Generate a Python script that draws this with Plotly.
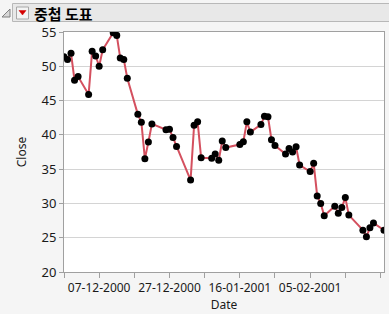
import plotly.graph_objects as go

dates = ["2000-11-27","2000-11-28","2000-11-29","2000-11-30","2000-12-01",
         "2000-12-04","2000-12-05","2000-12-06","2000-12-07","2000-12-08",
         "2000-12-11","2000-12-12","2000-12-13","2000-12-14","2000-12-15",
         "2000-12-18","2000-12-19","2000-12-20","2000-12-21","2000-12-22",
         "2000-12-26","2000-12-27","2000-12-28","2000-12-29",
         "2001-01-02","2001-01-03","2001-01-04","2001-01-05",
         "2001-01-08","2001-01-09","2001-01-10","2001-01-11","2001-01-12",
         "2001-01-16","2001-01-17","2001-01-18","2001-01-19",
         "2001-01-22","2001-01-23","2001-01-24","2001-01-25","2001-01-26",
         "2001-01-29","2001-01-30","2001-01-31","2001-02-01","2001-02-02",
         "2001-02-05","2001-02-06","2001-02-07","2001-02-08","2001-02-09",
         "2001-02-12","2001-02-13","2001-02-14","2001-02-15","2001-02-16",
         "2001-02-20","2001-02-21","2001-02-22","2001-02-23",
         "2001-02-26"]
close = [51.4, 51.0, 51.9, 47.95, 48.5,
         45.9, 52.2, 51.5, 50.0, 52.4,
         54.9, 54.5, 51.2, 51.0, 48.25,
         43.0, 41.85, 36.5, 38.95, 41.6,
         40.75, 40.8, 39.6, 38.3,
         33.4, 41.4, 41.9, 36.65,
         36.6, 37.2, 36.3, 39.1, 38.15,
         38.6, 39.0, 41.9, 40.4,
         41.5, 42.7, 42.65, 39.3, 38.45,
         37.2, 38.0, 37.5, 38.25, 35.6,
         34.65, 35.85, 31.1, 30.0, 28.2,
         29.6, 28.55, 29.4, 30.85, 28.3,
         26.1, 25.15, 26.45, 27.15,
         26.1]

x_tick_vals = ["2000-11-27","2000-12-07","2000-12-17","2000-12-27","2001-01-06",
               "2001-01-16","2001-01-26","2001-02-05","2001-02-15","2001-02-25"]
x_tick_text = ["","07-12-2000","","27-12-2000","",
               "16-01-2001","","05-02-2001","",""]
y_tick_vals = [20, 25, 30, 35, 40, 45, 50, 55]

title_text = "중첩 도표"
x_title = "Date"
y_title = "Close"

W, H = 389, 314
L, R, T, B = 64, 5, 32, 42
PW, PH = W - L - R, H - T - B

def px(x):
    return (x - L) / PW

def py(y):
    return (H - B - y) / PH

FONT = "Noto Sans, DejaVu Sans, sans-serif"
GRAY = "#a0a0a0"

fig = go.Figure()
fig.add_trace(go.Scatter(
    x=dates, y=close, mode="lines+markers",
    line=dict(color="#d4505f", width=2),
    marker=dict(color="black", size=7),
    hoverinfo="skip", showlegend=False,
))

shapes = [
    # header bar
    dict(type="rect", xref="paper", yref="paper",
         x0=px(12.5), x1=px(395), y0=py(3.5), y1=py(21.5),
         fillcolor="#e8e8e8", line=dict(color="#b8b8b8", width=1), layer="below"),
    # disclosure triangle
    dict(type="path", xref="paper", yref="paper",
         path=f"M {px(10)} {py(9)} L {px(10)} {py(17)} L {px(2)} {py(17)} Z",
         fillcolor="#d8d8d8", line=dict(color="#808080", width=1)),
    # red triangle button
    dict(type="rect", xref="paper", yref="paper",
         x0=px(16.5), x1=px(28.5), y0=py(7), y1=py(19),
         fillcolor="#f4f4f4", line=dict(color="#a8a8a8", width=1)),
    dict(type="path", xref="paper", yref="paper",
         path=f"M {px(19)} {py(10.5)} L {px(26)} {py(10.5)} L {px(22.5)} {py(15)} Z",
         fillcolor="#d40000", line=dict(color="#d40000", width=0.5)),
]

annotations = [
    dict(text=f"<b>{title_text}</b>", xref="paper", yref="paper",
         x=px(32), y=py(13), xanchor="left", yanchor="middle", showarrow=False,
         font=dict(family="Noto Sans CJK KR", size=15, color="black")),
]

fig.update_layout(
    width=W, height=H,
    margin=dict(l=L, r=R, t=T, b=B, autoexpand=False),
    paper_bgcolor="#f5f5f5", plot_bgcolor="white",
    font=dict(family=FONT, size=12, color="#1a1a1a"),
    shapes=shapes, annotations=annotations,
    xaxis=dict(
        type="date", range=["2000-11-27", "2001-02-26"],
        tickvals=x_tick_vals, ticktext=x_tick_text,
        ticks="outside", ticklen=5, tickcolor=GRAY, tickwidth=1,
        showline=True, linecolor=GRAY, linewidth=1, mirror=True,
        showgrid=False, zeroline=False,
        title=dict(text=x_title, standoff=2, font=dict(size=12)),
        tickfont=dict(size=12),
    ),
    yaxis=dict(
        range=[20, 55], tickvals=y_tick_vals,
        ticks="outside", ticklen=4, tickcolor=GRAY, tickwidth=1,
        showline=True, linecolor=GRAY, linewidth=1, mirror=True,
        showgrid=True, gridcolor="#d4d4d4", gridwidth=1, zeroline=False,
        title=dict(text=y_title, standoff=12, font=dict(size=12)),
        tickfont=dict(size=13),
    ),
)

fig.write_html("out.html")
